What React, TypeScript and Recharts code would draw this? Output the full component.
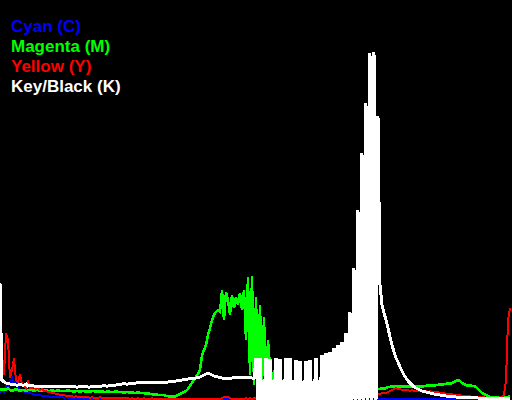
import { LineChart, Line, XAxis, YAxis } from "recharts"

// histogram heights per bin (0..255), in chart units (0..400)
const cyan = [
  6, 10, 8, 14, 12, 18, 22, 16, 20, 12, 10, 9, 8, 8, 7, 7,
  6, 6, 5, 5, 5, 4, 4, 4, 4, 3, 3, 3, 3, 3, 3, 3,
  2, 3, 2, 2, 2, 2, 2, 2, 2, 2, 1, 2, 1, 1, 1, 1,
  1, 1, 1, 1, 1, 1, 1, 1, 1, 1, 1, 1, 1, 1, 1, 1,
  1, 1, 1, 1, 1, 1, 1, 1, 1, 1, 1, 1, 1, 1, 1, 1,
  1, 1, 1, 1, 1, 1, 1, 1, 1, 1, 1, 1, 1, 1, 1, 1,
  1, 1, 1, 1, 1, 1, 1, 1, 1, 1, 1, 1, 1, 1, 1, 1,
  1, 1, 1, 1, 1, 1, 1, 1, 1, 1, 1, 1, 1, 1, 1, 1,
  1, 1, 1, 1, 1, 1, 1, 1, 1, 1, 1, 1, 1, 1, 1, 1,
  1, 1, 1, 1, 1, 1, 1, 1, 1, 1, 1, 1, 1, 1, 1, 1,
  1, 1, 1, 1, 1, 1, 1, 1, 1, 1, 1, 1, 1, 1, 1, 1,
  1, 1, 1, 1, 1, 1, 1, 1, 1, 1, 1, 1, 1, 1, 1, 1,
  1, 1, 1, 1, 1, 1, 1, 1, 1, 1, 1, 1, 1, 1, 1, 1,
  1, 1, 1, 1, 1, 1, 1, 1, 1, 1, 1, 1, 1, 1, 1, 1,
  1, 1, 1, 1, 1, 1, 1, 1, 1, 1, 1, 1, 1, 1, 1, 1,
  1, 1, 1, 1, 1, 1, 1, 1, 1, 1, 1, 1, 1, 1, 1, 1,
]

const magenta = [
  11, 10, 11, 10, 12, 10, 9, 10, 11, 10, 9, 10, 10, 9, 10, 10,
  10, 9, 10, 10, 9, 10, 9, 10, 9, 9, 10, 9, 9, 10, 9, 9,
  9, 9, 10, 9, 9, 8, 9, 9, 8, 9, 9, 8, 9, 8, 9, 9,
  8, 9, 8, 9, 8, 8, 9, 8, 8, 8, 9, 8, 8, 8, 7, 8,
  8, 7, 8, 7, 7, 8, 7, 7, 7, 6, 7, 6, 6, 5, 6, 5,
  5, 5, 5, 4, 4, 3, 4, 3, 4, 5, 6, 7, 8, 9, 11, 14,
  17, 20, 23, 26, 30, 45, 50, 55, 65, 72, 80, 85, 88, 90, 88, 110,
  80, 108, 100, 85, 105, 92, 103, 95, 107, 90, 110, 60, 123, 25, 124, 15,
  103, 20, 95, 15, 83, 12, 60, 33, 10, 30, 10, 25, 8, 20, 8, 17,
  8, 14, 7, 12, 8, 10, 7, 9, 8, 9, 8, 9, 8, 9, 8, 9,
  9, 8, 9, 9, 10, 9, 10, 9, 10, 10, 11, 10, 11, 10, 11, 11,
  11, 11, 12, 11, 12, 12, 12, 11, 12, 12, 12, 11, 12, 11, 11, 12,
  11, 12, 13, 13, 14, 13, 14, 13, 14, 13, 14, 13, 14, 13, 14, 13,
  14, 13, 14, 13, 14, 14, 15, 14, 15, 14, 15, 15, 16, 15, 16, 16,
  17, 16, 17, 18, 19, 20, 19, 17, 16, 15, 14, 15, 14, 14, 13, 11,
  9, 7, 6, 5, 4, 3, 3, 3, 3, 3, 2, 2, 2, 3, 3, 4,
]

const yellow = [
  117, 45, 25, 67, 60, 22, 30, 42, 20, 18, 26, 15, 14, 12, 18, 12,
  12, 13, 11, 12, 10, 11, 9, 9, 8, 8, 7, 7, 6, 6, 5, 5,
  5, 4, 4, 4, 4, 3, 4, 3, 3, 3, 3, 3, 3, 2, 3, 2,
  2, 2, 3, 2, 2, 2, 2, 2, 2, 2, 2, 2, 2, 2, 2, 2,
  2, 1, 2, 1, 1, 2, 1, 1, 2, 1, 1, 1, 2, 1, 1, 1,
  1, 1, 1, 1, 1, 1, 1, 1, 1, 1, 1, 1, 1, 1, 1, 1,
  1, 1, 1, 1, 1, 1, 1, 1, 1, 1, 1, 1, 1, 1, 1, 2,
  3, 3, 3, 2, 1, 1, 1, 1, 1, 1, 1, 2, 1, 2, 1, 2,
  2, 3, 2, 3, 2, 3, 2, 3, 2, 3, 2, 3, 2, 3, 3, 3,
  3, 3, 4, 3, 3, 4, 3, 3, 4, 3, 4, 3, 4, 3, 4, 4,
  4, 4, 5, 4, 4, 5, 4, 5, 4, 5, 5, 4, 5, 5, 5, 5,
  5, 5, 6, 5, 6, 5, 6, 6, 5, 6, 6, 6, 6, 6, 6, 7,
  7, 7, 8, 9, 10, 11, 12, 11, 11, 10, 10, 10, 10, 9, 10, 9,
  9, 9, 9, 9, 9, 9, 8, 9, 8, 8, 8, 8, 7, 7, 7, 6,
  6, 6, 6, 5, 5, 5, 5, 4, 4, 4, 4, 4, 3, 3, 3, 3,
  3, 3, 3, 2, 2, 2, 2, 2, 2, 2, 3, 3, 5, 20, 80, 92,
]

const black = [
  117, 20, 18, 17, 17, 16, 16, 16, 15, 15, 16, 15, 15, 16, 14, 15,
  15, 14, 13, 14, 13, 14, 14, 13, 14, 13, 14, 13, 14, 14, 13, 14,
  14, 13, 14, 14, 13, 14, 13, 13, 14, 13, 14, 14, 13, 13, 14, 13,
  14, 13, 14, 14, 15, 14, 14, 15, 15, 14, 15, 16, 15, 16, 17, 16,
  16, 17, 16, 17, 17, 18, 17, 18, 17, 18, 18, 17, 18, 18, 17, 18,
  18, 18, 17, 18, 18, 19, 18, 19, 19, 20, 19, 20, 21, 20, 21, 22,
  22, 22, 22, 23, 23, 24, 25, 26, 27, 26, 25, 24, 24, 23, 23, 22,
  21, 22, 21, 22, 22, 23, 22, 23, 22, 23, 22, 23, 22, 23, 22, 22,
  42, 0, 42, 0, 0, 42, 0, 41, 0, 0, 42, 0, 41, 0, 0, 42,
  0, 42, 0, 0, 40, 0, 39, 0, 0, 39, 0, 40, 0, 0, 42, 0,
  0, 45, 0, 47, 0, 48, 0, 52, 0, 55, 0, 58, 0, 67, 0, 88,
  0, 132, 0, 190, 0, 247, 0, 297, 0, 347, 0, 348, 0, 284, 115, 95,
  87, 80, 72, 63, 55, 48, 42, 38, 33, 29, 25, 22, 19, 17, 15, 13,
  12, 11, 10, 9, 9, 8, 8, 7, 7, 6, 6, 6, 5, 5, 5, 4,
  4, 4, 4, 4, 3, 3, 3, 3, 3, 3, 3, 3, 3, 3, 3, 2,
  2, 2, 2, 2, 2, 2, 2, 2, 2, 2, 2, 2, 2, 2, 2, 2,
]

const labels = ["Cyan (C)", "Magenta (M)", "Yellow (Y)", "Key/Black (K)"]
const colors = ["#0000ff", "#00ff00", "#ff0000", "#ffffff"]

const data = cyan.map((c, i) => ({
  bin: i,
  c,
  m: magenta[i],
  y: yellow[i],
  k: black[i],
}))

export default function App() {
  return (
    <div
      style={{
        position: "fixed",
        left: 0,
        top: 0,
        width: 512,
        height: 400,
        background: "#000",
        overflow: "hidden",
      }}
    >
      <style>{".hist path { shape-rendering: crispEdges; }"}</style>
      <LineChart className="hist" width={512} height={400} data={data} margin={{ top: 0, right: 0, bottom: 0, left: 0 }}>
        <XAxis dataKey="bin" type="number" domain={[0, 256]} hide />
        <YAxis type="number" domain={[0, 400]} hide />
        <Line dataKey="c" stroke={colors[0]} strokeWidth={2} dot={false} activeDot={false} isAnimationActive={false} />
        <Line dataKey="m" stroke={colors[1]} strokeWidth={2.5} dot={false} activeDot={false} isAnimationActive={false} />
        <Line dataKey="y" stroke={colors[2]} strokeWidth={2} dot={false} activeDot={false} isAnimationActive={false} />
        <Line dataKey="k" stroke={colors[3]} strokeWidth={3} dot={false} activeDot={false} isAnimationActive={false} />
      </LineChart>
      {labels.map((label, i) => (
        <div
          key={label}
          style={{
            position: "absolute",
            left: 11,
            top: 17 + i * 20,
            color: colors[i],
            font: "bold 17px 'Liberation Sans', sans-serif",
            lineHeight: "normal",
            whiteSpace: "nowrap",
          }}
        >
          {label}
        </div>
      ))}
    </div>
  )
}
